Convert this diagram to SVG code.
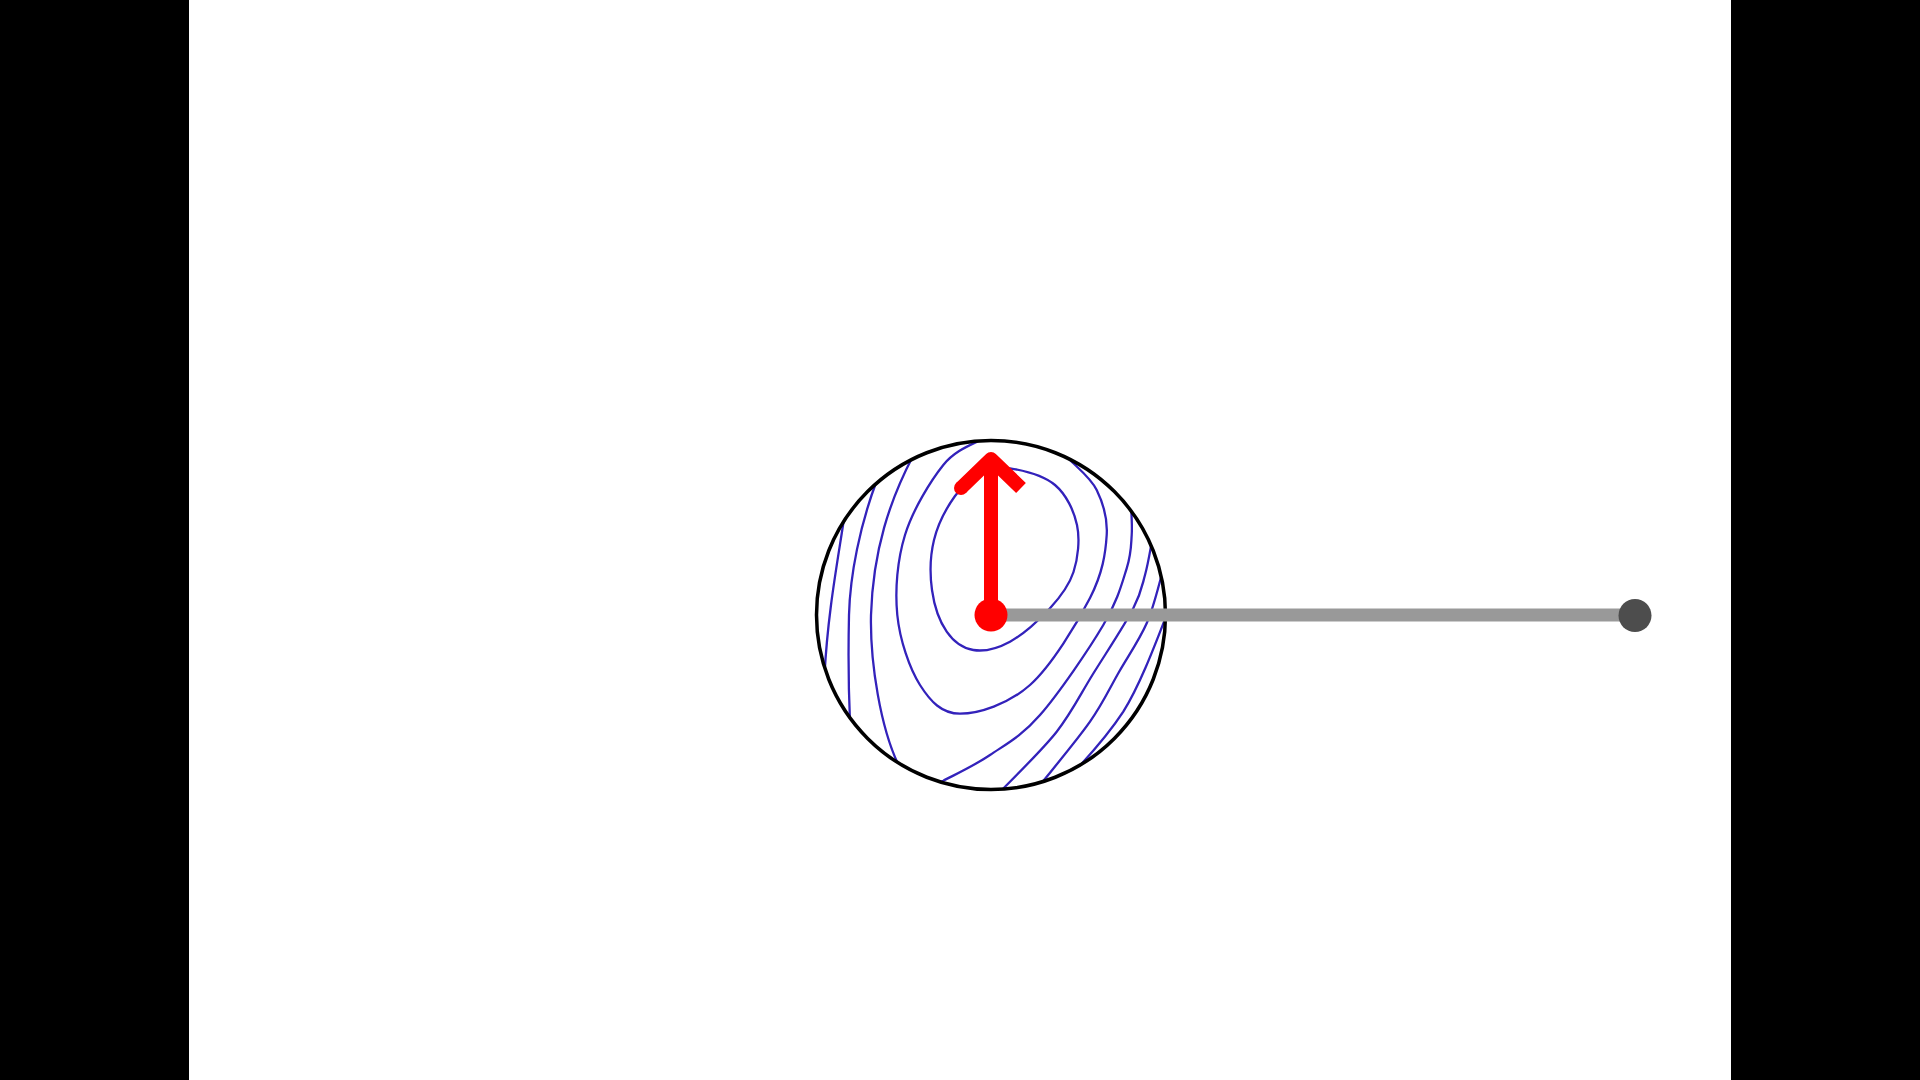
<svg xmlns="http://www.w3.org/2000/svg" width="1920" height="1080" viewBox="0 0 1920 1080">
  <style>
    .contour { fill: none; stroke: #3322bb; stroke-width: 2.3; }
    .rim { fill: none; stroke: #000000; stroke-width: 3.5; }
    .rod { stroke: #999999; stroke-width: 13; stroke-linecap: butt; }
    .red { fill: none; stroke: #ff0000; stroke-width: 14; }
  </style>
  <defs>
    <clipPath id="discClip">
      <circle cx="991" cy="615" r="174.5"/>
    </clipPath>
  </defs>

  <rect x="0" y="0" width="1920" height="1080" fill="#ffffff"/>
  <rect x="0" y="0" width="189" height="1080" fill="#000000"/>
  <rect x="1731" y="0" width="189" height="1080" fill="#000000"/>

  <g id="disc">
    <g id="contours" clip-path="url(#discClip)">
      <path class="contour" d="M845,512 C838,560 828,610 824.5,675"/>
      <path class="contour" d="M877,480 C860,525 850,575 849,615 C848,660 849,700 850,722"/>
      <path class="contour" d="M913,456 C890,500 873,550 871,615 C870,660 880,730 901,770"/>
      <path class="contour" d="M982,439 C975.55,443.33 956.1,449 943.3,465 C930.5,481 912.7,510 905,535 C897.3,560 894.8,590 897.3,615 C899.8,640 909.55,668.55 920,685 C930.45,701.45 941.67,713.7 960,713.7 C978.33,713.7 1008.33,704.28 1030,685 C1051.67,665.72 1077.22,623 1090,598 C1102.78,573 1105.58,553 1106.7,535 C1107.82,517 1102.82,502.5 1096.7,490 C1090.58,477.5 1075.78,466.17 1070,460 C1064.22,453.83 1063.33,454.17 1062,453"/>
      <path class="contour" d="M1010,468.3 C1022.17,470.3 1043.83,475.55 1055,485 C1066.17,494.45 1073.92,510.5 1077,525 C1080.08,539.5 1078,558.12 1073.5,572 C1069,585.88 1060.58,596.68 1050,608.3 C1039.42,619.92 1022.78,634.75 1010,641.7 C997.22,648.65 983.85,651.67 973.3,650 C962.75,648.33 953.58,641.7 946.7,631.7 C939.82,621.7 934.12,605.28 932,590 C929.88,574.72 930.17,555.67 934,540 C937.830,524.33 947,507.17 955,496 C963,484.83 972.83,477.62 982,473 C991.17,468.38 997.83,466.3 1010,468.3 Z"/>
      <path class="contour" d="M1131,505 C1131.12,510 1132.42,524.45 1131.7,535 C1130.98,545.55 1131.43,553.3 1126.7,568.3 C1121.97,583.3 1117.75,600.55 1103.3,625 C1088.85,649.45 1058.88,693.33 1040,715 C1021.12,736.67 1006.12,744.05 990,755 C973.88,765.95 952.97,775.53 943.3,780.7 C941.42,781.58 933.88,785.12 932,786"/>
      <path class="contour" d="M1152,541 C1150.83,546.67 1148.12,563.78 1145,575 C1141.88,586.22 1141.63,591.8 1133.3,608.3 C1124.97,624.8 1105.77,653.43 1093,674 C1080.23,694.57 1071.65,712.65 1056.7,731.7 C1041.75,750.75 1007.78,783.62 998,794"/>
      <path class="contour" d="M1162,574 C1159.45,582.22 1153.87,606.97 1146.7,623.3 C1139.53,639.63 1128.45,655.6 1119,672 C1109.55,688.4 1103.17,702.87 1090,721.7 C1076.83,740.53 1048.33,774.45 1040,785"/>
      <path class="contour" d="M1167,614 C1155,645 1140,685 1123.3,711.7 C1108,735 1090,755 1075,771"/>
    </g>
    <circle class="rim" cx="991" cy="615" r="174.5"/>
  </g>

  <g id="connectors">
    <line class="rod" x1="991" y1="615" x2="1635" y2="615"/>
  </g>

  <g id="end-node">
    <circle cx="1635" cy="615.5" r="16.5" fill="#4d4d4d"/>
  </g>

  <g id="arrow">
    <line class="red" x1="991" y1="615" x2="991" y2="459"/>
    <path class="red" d="M1021,488 L991,459 L961,488" stroke-linejoin="round" stroke-linecap="butt"/>
    <circle cx="961" cy="488" r="7" fill="#ff0000"/>
  </g>

  <g id="center-node">
    <circle cx="991" cy="615" r="16.5" fill="#ff0000"/>
  </g>
</svg>
